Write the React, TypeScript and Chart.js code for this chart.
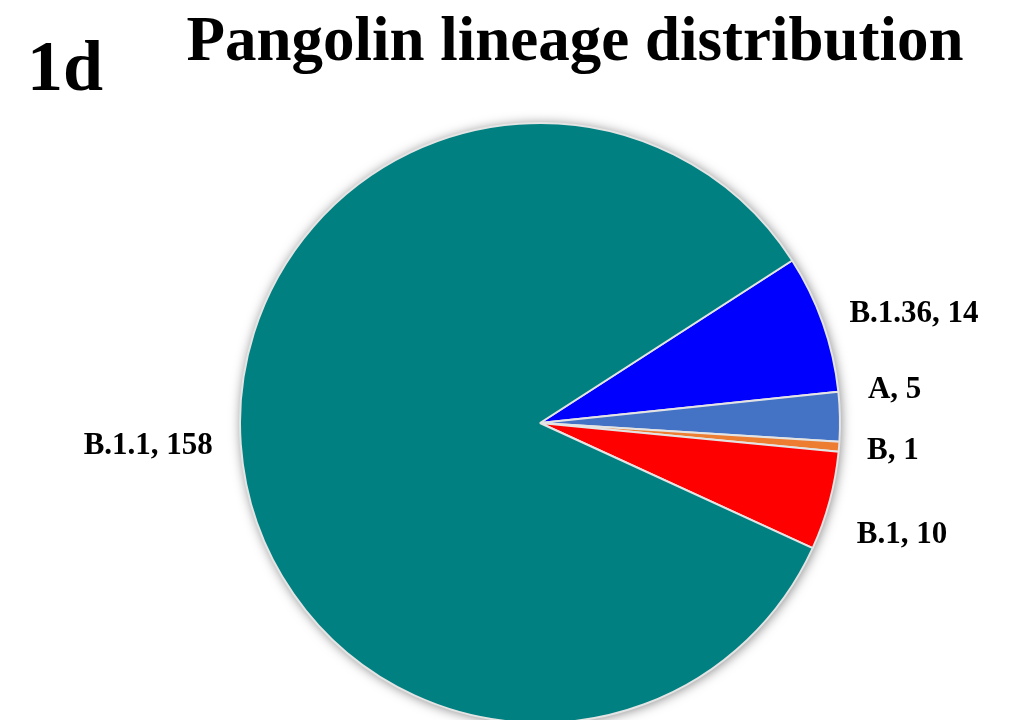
import React, { useEffect, useRef } from "react";
import { Chart, registerables } from "chart.js";

Chart.register(...registerables);

// Lineage counts
const lineages = ["B.1.36", "A", "B", "B.1", "B.1.1"];
const counts = [14, 5, 1, 10, 158];
const sliceColors = ["#0000FF", "#4472C4", "#ED7D31", "#FF0000", "#008080"];
// vertical nudges so the small-slice labels don't collide
const labelShiftY = [0, -26, 2, 27, 0];

const FONT = '"Liberation Serif", "Times New Roman", serif';

const pieShadow = {
  id: "pieShadow",
  beforeDatasetsDraw(chart: any) {
    const arc = chart.getDatasetMeta(0).data[0];
    if (!arc) return;
    const { x, y, outerRadius } = arc as any;
    const ctx = chart.ctx;
    ctx.save();
    ctx.shadowColor = "rgba(0,0,0,0.5)";
    ctx.shadowBlur = 12;
    ctx.shadowOffsetX = 1;
    ctx.shadowOffsetY = 1;
    ctx.beginPath();
    ctx.arc(x, y, outerRadius, 0, Math.PI * 2);
    ctx.fillStyle = "#008080";
    ctx.fill();
    ctx.restore();
  },
};

const textLayer = {
  id: "textLayer",
  afterDatasetsDraw(chart: any) {
    const ctx = chart.ctx;
    const meta = chart.getDatasetMeta(0);
    ctx.save();
    ctx.fillStyle = "#000";

    ctx.font = `bold 72px ${FONT}`;
    ctx.textAlign = "left";
    ctx.textBaseline = "alphabetic";
    ctx.fillText("1d", 27, 90);

    ctx.font = `bold 63px ${FONT}`;
    ctx.textAlign = "center";
    ctx.fillText("Pangolin lineage distribution", 575, 60);

    ctx.font = `bold 31px ${FONT}`;
    ctx.textBaseline = "middle";
    meta.data.forEach((el: any, i: number) => {
      const mid = (el.startAngle + el.endAngle) / 2;
      const R = el.outerRadius + 28;
      const lx = el.x + Math.cos(mid) * R;
      const ly = el.y + Math.sin(mid) * R + labelShiftY[i];
      ctx.textAlign = Math.cos(mid) >= 0 ? "left" : "right";
      ctx.fillText(`${lineages[i]}, ${counts[i]}`, lx, ly);
    });
    ctx.restore();
  },
};

export default function App() {
  const ref = useRef<HTMLCanvasElement>(null);

  useEffect(() => {
    if (!ref.current) return;
    const chart = new Chart(ref.current, {
      type: "pie",
      data: {
        labels: lineages,
        datasets: [
          {
            data: counts,
            backgroundColor: sliceColors,
            borderColor: "#E4E4E4",
            borderWidth: 2,
          },
        ],
      },
      options: {
        responsive: false,
        animation: false,
        rotation: 57.2,
        radius: 300,
        layout: { padding: { left: 70, right: 0, top: 126, bottom: 0 } },
        plugins: {
          legend: { display: false },
          tooltip: { enabled: false },
          title: { display: false },
        },
      },
      plugins: [pieShadow, textLayer],
    });
    return () => chart.destroy();
  }, []);

  return (
    <div style={{ position: "fixed", left: 0, top: 0, width: 1010, height: 720, background: "#fff" }}>
      <canvas ref={ref} width={1010} height={720} style={{ display: "block" }} />
    </div>
  );
}
